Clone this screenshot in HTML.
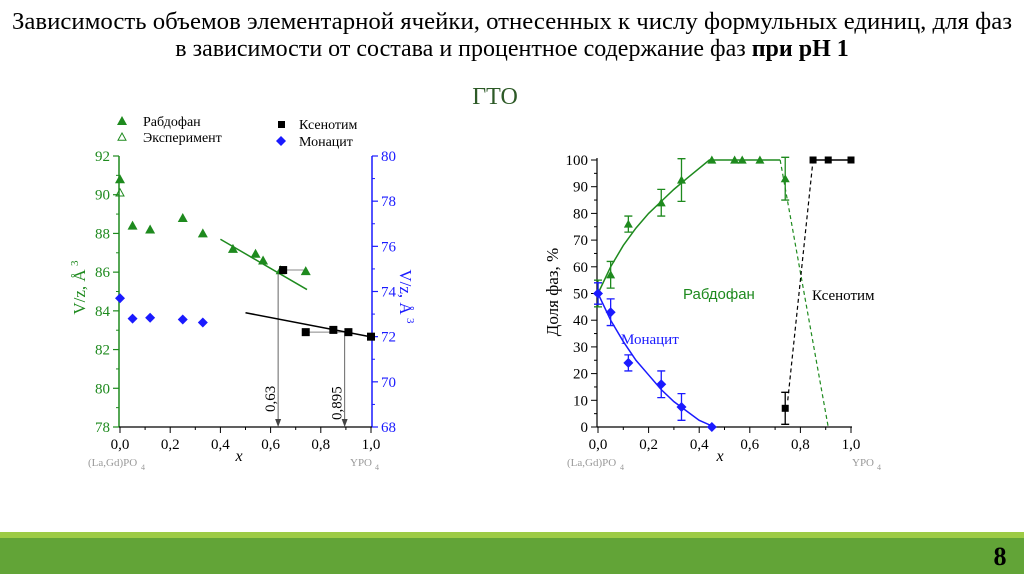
<!DOCTYPE html>
<html><head><meta charset="utf-8"><style>
html,body{margin:0;padding:0;background:#fff;}
svg{display:block;font-family:"Liberation Serif","DejaVu Serif",serif;}
</style></head><body>
<svg id="s" width="1024" height="574" viewBox="0 0 1024 574" xmlns="http://www.w3.org/2000/svg">
<text x="512" y="29" text-anchor="middle" font-size="24" textLength="1000" lengthAdjust="spacingAndGlyphs">Зависимость объемов элементарной ячейки, отнесенных к числу формульных единиц, для фаз</text>
<text x="512" y="56" text-anchor="middle" font-size="24">в зависимости от состава и процентное содержание фаз <tspan font-weight="bold">при pH 1</tspan></text>
<text x="495" y="104" text-anchor="middle" font-size="24" fill="#2d5a27">ГТО</text>
<rect x="0" y="532" width="1024" height="6" fill="#9dcb45"/>
<rect x="0" y="538" width="1024" height="36" fill="#62a437"/>
<text x="1000" y="565" text-anchor="middle" font-size="26" font-weight="bold">8</text>
<g id="left"></g>
<g id="right"></g>
</svg>
<script>
// ---- Left chart data ----
const rhabX = [0, 0.05, 0.12, 0.25, 0.33, 0.45, 0.54, 0.57, 0.64, 0.74];
const rhabV = [90.8, 88.4, 88.2, 88.8, 88.0, 87.2, 86.95, 86.6, 86.1, 86.05];
const expX = [0];
const expV = [90.1];
const xenoX = [0.65, 0.74, 0.85, 0.91, 1.0];
const xenoV = [74.95, 72.2, 72.3, 72.2, 72.0];
const monaX = [0, 0.05, 0.12, 0.25, 0.33];
const monaV = [73.7, 72.8, 72.84, 72.76, 72.63];
const leftTicksX = [0, 0.2, 0.4, 0.6, 0.8, 1.0];
const leftTicksY = [78, 80, 82, 84, 86, 88, 90, 92];
const rightTicksY = [68, 70, 72, 74, 76, 78, 80];
const rhabFitX = [0.4, 0.745];
const rhabFitV = [87.7, 85.1];
const xenoFitX = [0.5, 1.0];
const xenoFitV = [73.06, 71.99];
const markerX = [0.63, 0.895];
const markerLbl = ["0,63", "0,895"];
// ---- Right chart data ----
const pRhX = [0, 0.05, 0.12, 0.25, 0.33, 0.45, 0.54, 0.57, 0.64, 0.74];
const pRhY = [50, 57, 76, 84, 92.5, 100, 100, 100, 100, 93];
const pRhE = [5, 5, 3, 5, 8, 0, 0, 0, 0, 8];
const pMoX = [0, 0.05, 0.12, 0.25, 0.33, 0.45];
const pMoY = [50, 43, 24, 16, 7.5, 0];
const pMoE = [4, 5, 3, 5, 5, 0];
const pXeX = [0.74, 0.85, 0.91, 1.0];
const pXeY = [7, 100, 100, 100];
const pXeE = [6, 0, 0, 0];
const fitRhX = [0, 0.05, 0.1, 0.15, 0.2, 0.25, 0.3, 0.35, 0.44, 0.72];
const fitRhY = [50, 60, 68, 74.5, 80, 84.5, 89, 93, 100, 100];
const fitRhDashX = [0.72, 0.91];
const fitRhDashY = [100, 0];
const fitMoX = [0, 0.05, 0.1, 0.15, 0.2, 0.25, 0.3, 0.35, 0.4, 0.46];
const fitMoY = [50, 40, 32, 25, 19.5, 14, 9.5, 6, 2.5, 0];
const fitXeX = [0.75, 0.85];
const fitXeY = [10, 100];
const pTicksY = [0, 10, 20, 30, 40, 50, 60, 70, 80, 90, 100];

const NS = "http://www.w3.org/2000/svg";
function mk(parent, tag, attrs, text) {
  const e = document.createElementNS(NS, tag);
  for (const k in attrs) e.setAttribute(k, attrs[k]);
  if (text !== undefined) e.textContent = text;
  parent.appendChild(e);
  return e;
}
const fmt = v => v.toFixed(1).replace(".", ",");

// ===== LEFT =====
const L = document.getElementById("left");
const lx = v => 120 + v * 251;
const ly = v => 427 - (v - 78) * (271 / 14);
const ry = v => 427 - (v - 68) * (271 / 12);
const G = "#1e8a1e", B = "#1a1aff";

let e;
e = mk(L, "line", {x1: 119, y1: 156, x2: 119, y2: 427, stroke: G, "stroke-width": 1.5});
 
e = mk(L, "line", {x1: 372, y1: 156, x2: 372, y2: 427, stroke: B, "stroke-width": 1.5});
 
e = mk(L, "line", {x1: 119, y1: 427, x2: 372, y2: 427, stroke: "#000", "stroke-width": 1.2});
 
leftTicksY.forEach((t, i) => {
  const y = ly(t);
  mk(L, "line", {x1: 113, y1: y, x2: 119, y2: y, stroke: G, "stroke-width": 1.2});
  if (i < leftTicksY.length - 1) mk(L, "line", {x1: 116, y1: ly(t + 1), x2: 119, y2: ly(t + 1), stroke: G});
  e = mk(L, "text", {x: 110, y: y + 5, "text-anchor": "end", "font-size": 15, fill: G}, String(t));
   
});
rightTicksY.forEach((t, i) => {
  const y = ry(t);
  mk(L, "line", {x1: 372, y1: y, x2: 378, y2: y, stroke: B, "stroke-width": 1.2});
  if (i < rightTicksY.length - 1) mk(L, "line", {x1: 372, y1: ry(t + 1), x2: 375, y2: ry(t + 1), stroke: B});
  e = mk(L, "text", {x: 381, y: y + 5, "font-size": 15, fill: B}, String(t));
   
});
leftTicksX.forEach((t, i) => {
  const x = lx(t);
  mk(L, "line", {x1: x, y1: 427, x2: x, y2: 433, stroke: "#000"});
  if (i < leftTicksX.length - 1) mk(L, "line", {x1: lx(t + 0.1), y1: 427, x2: lx(t + 0.1), y2: 430, stroke: "#000"});
  e = mk(L, "text", {x: x, y: 449, "text-anchor": "middle", "font-size": 15}, fmt(t));
   
});
e = mk(L, "text", {x: 239, y: 461, "text-anchor": "middle", "font-size": 16, "font-style": "italic"}, "x");
 
e = mk(L, "text", {x: 88, y: 466, "font-size": 11, fill: "#999"}, "(La,Gd)PO");
 
mk(L, "text", {x: 141, y: 470, "font-size": 8, fill: "#999"}, "4");
e = mk(L, "text", {x: 350, y: 466, "font-size": 11, fill: "#999"}, "YPO");
 
mk(L, "text", {x: 375, y: 470, "font-size": 8, fill: "#999"}, "4");
e = mk(L, "text", {transform: "translate(85,292) rotate(-90)", "text-anchor": "middle", "font-size": 17, fill: G}, "V/z, Å");
 
mk(L, "text", {transform: "translate(78,266) rotate(-90)", "font-size": 11, fill: G}, "3");
e = mk(L, "text", {transform: "translate(400,292) rotate(90)", "text-anchor": "middle", "font-size": 17, fill: B}, "V/z, Å");
 
mk(L, "text", {transform: "translate(407,318) rotate(90)", "font-size": 11, fill: B}, "3");

mk(L, "line", {x1: lx(xenoX[0]), y1: ry(xenoV[0]), x2: lx(rhabX[9]), y2: ry(xenoV[0]), stroke: "#888"});
mk(L, "line", {x1: lx(xenoX[1]), y1: ry(xenoV[1]), x2: lx(xenoX[3]), y2: ry(xenoV[1]), stroke: "#888"});
markerX.forEach((m, i) => {
  const x = lx(m);
  const y0 = i === 0 ? ry(xenoV[0]) : ry(xenoV[1]);
  e = mk(L, "line", {x1: x, y1: y0, x2: x, y2: 421, stroke: "#666"});
   
  mk(L, "path", {d: `M${x - 3},419 L${x + 3},419 L${x},427 Z`, fill: "#444"});
  e = mk(L, "text", {transform: `translate(${x - 3},${i ? 420 : 412}) rotate(-90)`, "font-size": 15}, markerLbl[i]);
   
});
e = mk(L, "line", {x1: lx(rhabFitX[0]), y1: ly(rhabFitV[0]), x2: lx(rhabFitX[1]), y2: ly(rhabFitV[1]), stroke: G, "stroke-width": 1.5});
 
e = mk(L, "line", {x1: lx(xenoFitX[0]), y1: ry(xenoFitV[0]), x2: lx(xenoFitX[1]), y2: ry(xenoFitV[1]), stroke: "#000", "stroke-width": 1.5});
 
const tri = (x, y, s) => `M${x},${y - s} L${x + s},${y + s * 0.8} L${x - s},${y + s * 0.8} Z`;
rhabX.forEach((xv, i) => {
  e = mk(L, "path", {d: tri(lx(xv), ly(rhabV[i]), 5), fill: G});
   
});
expX.forEach((xv, i) => {
  e = mk(L, "path", {d: tri(lx(xv), ly(expV[i]), 4), fill: "none", stroke: G});
   
});
xenoX.forEach((xv, i) => {
  e = mk(L, "rect", {x: lx(xv) - 4, y: ry(xenoV[i]) - 4, width: 8, height: 8, fill: "#000"});
   
});
monaX.forEach((xv, i) => {
  const x = lx(xv), y = ry(monaV[i]);
  e = mk(L, "path", {d: `M${x},${y - 5} L${x + 5},${y} L${x},${y + 5} L${x - 5},${y} Z`, fill: B});
   
});
e = mk(L, "path", {d: tri(122, 121, 5), fill: G});  
e = mk(L, "text", {x: 143, y: 126, "font-size": 14}, "Рабдофан");  
e = mk(L, "path", {d: tri(122, 137, 4), fill: "none", stroke: G});  
e = mk(L, "text", {x: 143, y: 142, "font-size": 14}, "Эксперимент");  
e = mk(L, "rect", {x: 278, y: 121, width: 7, height: 7, fill: "#000"});  
e = mk(L, "text", {x: 299, y: 129, "font-size": 14}, "Ксенотим");  
e = mk(L, "path", {d: "M281,136 L286,141 L281,146 L276,141 Z", fill: B});  
e = mk(L, "text", {x: 299, y: 146, "font-size": 14}, "Монацит");  

// ===== RIGHT =====
const R = document.getElementById("right");
const px = v => 598 + v * 253;
const py = v => 427 - v * 2.67;
e = mk(R, "line", {x1: 597, y1: 158, x2: 597, y2: 427, stroke: "#000", "stroke-width": 1.2});
 
e = mk(R, "line", {x1: 597, y1: 427, x2: 852, y2: 427, stroke: "#000", "stroke-width": 1.2});
 
pTicksY.forEach((t, i) => {
  const y = py(t);
  mk(R, "line", {x1: 591, y1: y, x2: 597, y2: y, stroke: "#000"});
  if (i < pTicksY.length - 1) mk(R, "line", {x1: 594, y1: py(t + 5), x2: 597, y2: py(t + 5), stroke: "#000"});
  e = mk(R, "text", {x: 588, y: y + 5, "text-anchor": "end", "font-size": 15}, String(t));
   
});
leftTicksX.forEach((t, i) => {
  const x = px(t);
  mk(R, "line", {x1: x, y1: 427, x2: x, y2: 433, stroke: "#000"});
  if (i < leftTicksX.length - 1) mk(R, "line", {x1: px(t + 0.1), y1: 427, x2: px(t + 0.1), y2: 430, stroke: "#000"});
  e = mk(R, "text", {x: x, y: 449, "text-anchor": "middle", "font-size": 15}, fmt(t));
   
});
e = mk(R, "text", {x: 720, y: 461, "text-anchor": "middle", "font-size": 16, "font-style": "italic"}, "x");
 
e = mk(R, "text", {x: 567, y: 466, "font-size": 11, fill: "#999"}, "(La,Gd)PO");
 
mk(R, "text", {x: 620, y: 470, "font-size": 8, fill: "#999"}, "4");
e = mk(R, "text", {x: 852, y: 466, "font-size": 11, fill: "#999"}, "YPO");
 
mk(R, "text", {x: 877, y: 470, "font-size": 8, fill: "#999"}, "4");
e = mk(R, "text", {transform: "translate(558,292) rotate(-90)", "text-anchor": "middle", "font-size": 17}, "Доля фаз, %");
 

const poly = (xs, ys) => xs.map((v, i) => px(v) + "," + py(ys[i])).join(" ");
e = mk(R, "polyline", {points: poly(fitRhX, fitRhY), fill: "none", stroke: G, "stroke-width": 1.5});
 
e = mk(R, "polyline", {points: poly(fitRhDashX, fitRhDashY), fill: "none", stroke: G, "stroke-width": 1.2, "stroke-dasharray": "4,3"});
 
e = mk(R, "polyline", {points: poly(fitMoX, fitMoY), fill: "none", stroke: B, "stroke-width": 1.5});
 
e = mk(R, "polyline", {points: poly(fitXeX, fitXeY), fill: "none", stroke: "#000", "stroke-width": 1.2, "stroke-dasharray": "4,3"});
 
e = mk(R, "polyline", {points: poly(pXeX.slice(1), pXeY.slice(1)), fill: "none", stroke: "#000", "stroke-width": 1.5});
 

function errbar(x, y, err, col) {
  if (!err) return;
  const X = px(x);
  e = mk(R, "path", {d: `M${X},${py(y + err)} V${py(y - err)} M${X - 4},${py(y + err)} H${X + 4} M${X - 4},${py(y - err)} H${X + 4}`, stroke: col, fill: "none", "stroke-width": 1.3});
   
}
pRhX.forEach((xv, i) => {
  errbar(xv, pRhY[i], pRhE[i], G);
  if (i === 0) return;
  e = mk(R, "path", {d: tri(px(xv), py(pRhY[i]), 4.5), fill: G});
   
});
pMoX.forEach((xv, i) => {
  errbar(xv, pMoY[i], pMoE[i], B);
  const x = px(xv), y = py(pMoY[i]);
  e = mk(R, "path", {d: `M${x},${y - 5} L${x + 5},${y} L${x},${y + 5} L${x - 5},${y} Z`, fill: B});
   
});
pXeX.forEach((xv, i) => {
  errbar(xv, pXeY[i], pXeE[i], "#000");
  e = mk(R, "rect", {x: px(xv) - 3.5, y: py(pXeY[i]) - 3.5, width: 7, height: 7, fill: "#000"});
   
});
e = mk(R, "text", {x: 683, y: 299, "font-size": 15, fill: G, "font-family": "Liberation Sans, sans-serif"}, "Рабдофан");
 
e = mk(R, "text", {x: 621, y: 344, "font-size": 15, fill: B}, "Монацит");
 
e = mk(R, "text", {x: 812, y: 300, "font-size": 15}, "Ксенотим");
 
</script>
</body></html>
